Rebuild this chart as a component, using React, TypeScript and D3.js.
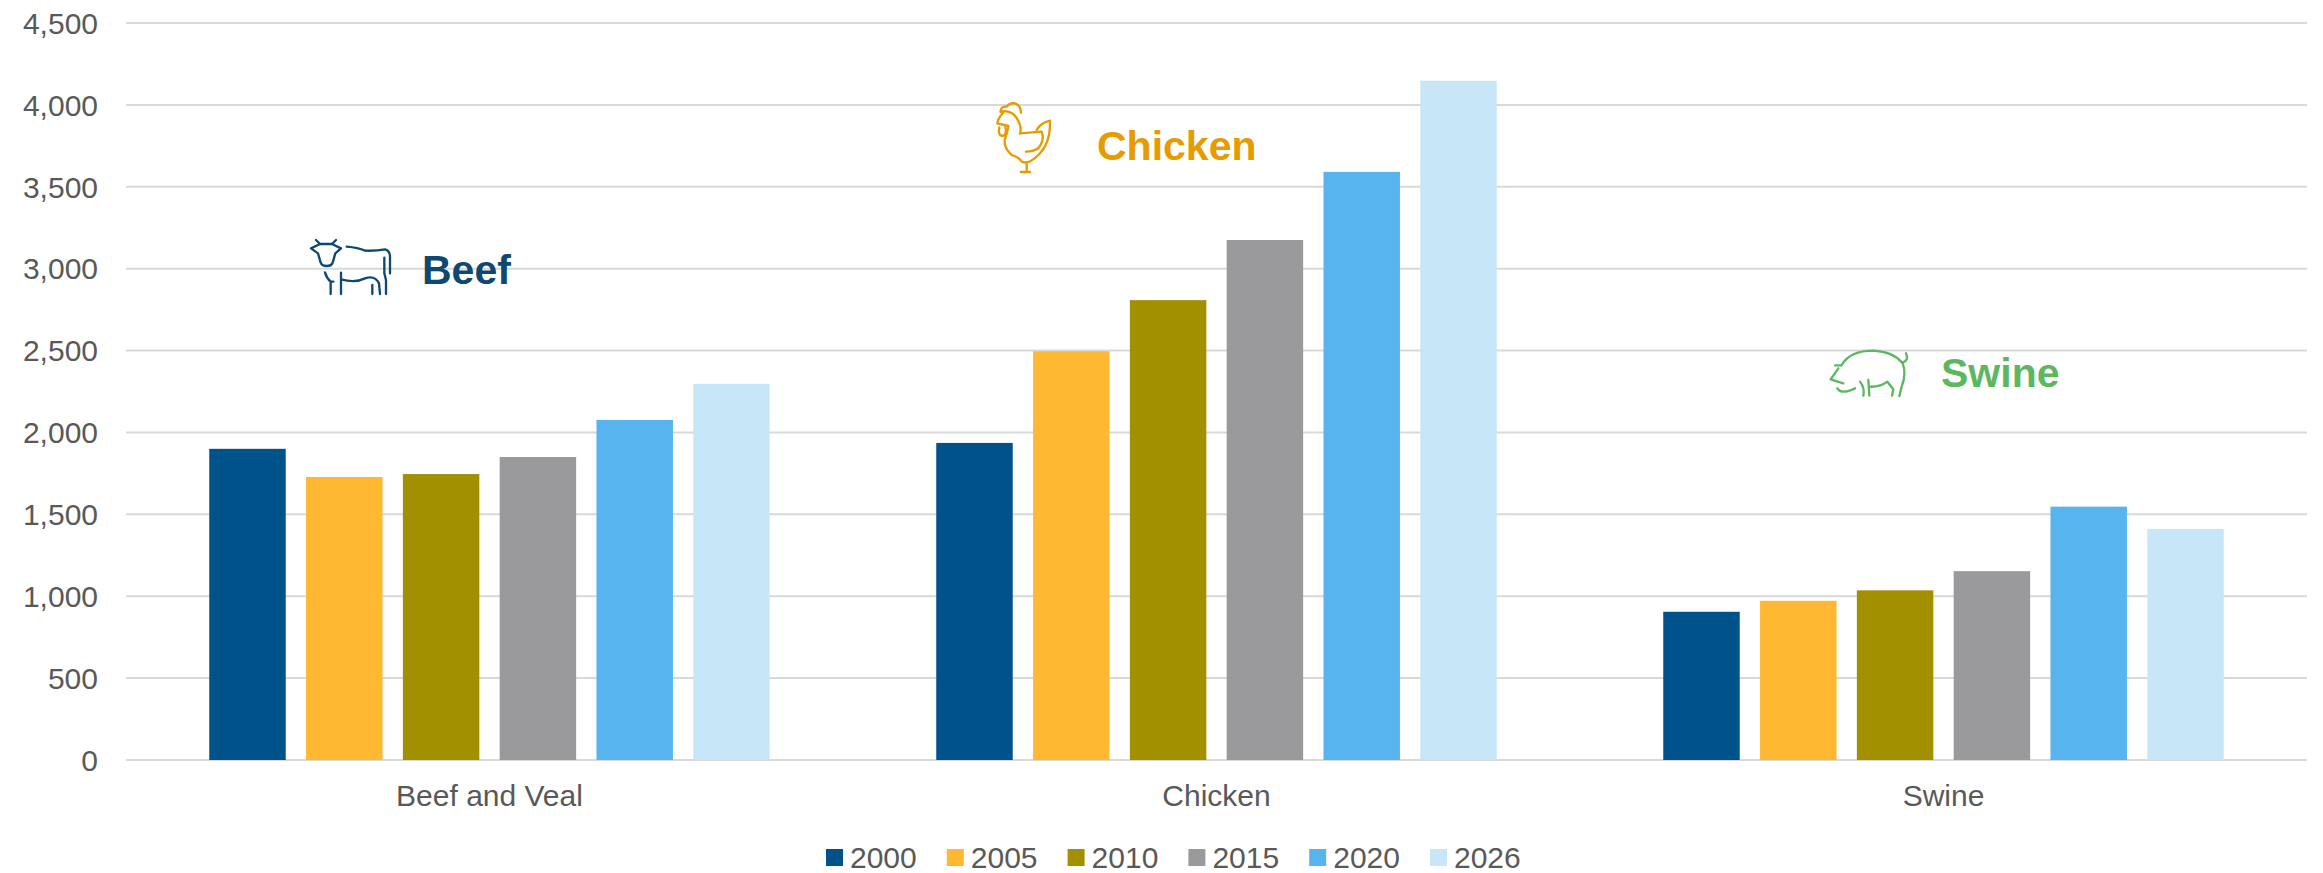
import React from "react";
import * as d3 from "d3";

const categories = ["Beef and Veal", "Chicken", "Swine"];
const years = ["2000", "2005", "2010", "2015", "2020", "2026"];
const colors = ["#00538A", "#FFB831", "#A39000", "#9A9A9C", "#57B4EE", "#C7E6F8"];
const beefValues = [1900, 1728, 1746, 1850, 2076, 2297];
const chickenValues = [1936, 2496, 2808, 3175, 3591, 4147];
const swineValues = [905, 972, 1036, 1153, 1547, 1411];
const seriesValues = [beefValues, chickenValues, swineValues];
const yTicks = [0, 500, 1000, 1500, 2000, 2500, 3000, 3500, 4000, 4500];

const W = 2323, H = 873;
const left = 126, right = 2307, top = 23, bottom = 760;
const FONT = "'Liberation Sans', Arial, sans-serif";
const TEXT = "#595959";

const x0 = d3.scaleBand<string>().domain(categories).range([left, right]);
const x1 = d3.scaleBand<string>().domain(years).range([0, x0.bandwidth()]).paddingInner(0.21).paddingOuter(0.86);
const y = d3.scaleLinear().domain([0, 4500]).range([bottom, top]);
const fmt = d3.format(",");

const beefIcon = [
  "M108 60L120 72M168 60L156 72",
  "M120 72H156L183 85L166 100L158 128Q155 138 140 138Q125 138 122 128L114 100L93 85Z",
  "M200 80Q235 83 255 92Q290 93 315 88Q330 92 330 110V160",
  "M313 113V160L318 180V222",
  "M135 157Q140 175 152 185V222M152 185H160",
  "M183 158V222M183 178Q225 190 255 175Q285 165 297 190L300 222M277 195V222",
];
const chickenIcon = [
  "M92 65Q92 48 110 50Q118 38 135 40Q152 45 153 68",
  "M92 65Q112 60 130 72Q145 88 150 105Q154 120 150 130",
  "M100 68Q85 82 82 100L115 108Q112 128 104 150Q102 175 125 195Q150 203 155 215Q175 225 205 195Q242 160 240 92Q212 98 200 120",
  "M88 112Q82 138 100 138Q112 130 106 112",
  "M150 130L215 125Q225 150 205 175Q190 185 168 185",
  "M170 222V245M152 246H180",
];
const swineIcon = [
  "M75 106H95M85 115L62 148L100 160",
  "M95 105Q120 62 190 62Q250 65 278 100Q290 130 275 170L268 198",
  "M278 98Q298 90 288 70",
  "M82 175Q95 195 135 175",
  "M150 155Q165 175 160 197M175 150L178 197",
  "M178 170Q210 172 232 155L250 178L246 197",
];

const labels = [
  { text: "Beef", x: 422, y: 284, color: "#0F4871", icon: beefIcon, ox: 280, oy: 220 },
  { text: "Chicken", x: 1097, y: 160, color: "#E69B00", icon: chickenIcon, ox: 970, oy: 90 },
  { text: "Swine", x: 1941, y: 387, color: "#5DB760", icon: swineIcon, ox: 1810, oy: 330 },
];

export default function App() {
  return (
    <svg width={W} height={H} viewBox={`0 0 ${W} ${H}`} style={{ position: "absolute", left: 0, top: 0, display: "block", background: "#fff" }} fontFamily={FONT}>
      {yTicks.map((t) => (
        <g key={t}>
          <line x1={left} x2={right} y1={y(t)} y2={y(t)} stroke="#D9D9D9" strokeWidth={2} />
          <text x={98} y={y(t)} dy="0.36em" textAnchor="end" fontSize={30} fill={TEXT}>{fmt(t)}</text>
        </g>
      ))}
      {categories.map((c, i) => (
        <g key={c} transform={`translate(${x0(c)},0)`}>
          {years.map((yr, j) => (
            <rect key={yr} x={x1(yr)} y={y(seriesValues[i][j])} width={x1.bandwidth()} height={bottom - y(seriesValues[i][j])} fill={colors[j]} />
          ))}
          <text x={x0.bandwidth() / 2} y={806} textAnchor="middle" fontSize={30} fill={TEXT}>{c}</text>
        </g>
      ))}
      {years.map((yr, j) => (
        <g key={yr} transform={`translate(${826 + j * 120.8},0)`}>
          <rect x={0} y={849} width={17} height={17} fill={colors[j]} />
          <text x={24} y={868} fontSize={30} fill={TEXT}>{yr}</text>
        </g>
      ))}
      {labels.map((l) => (
        <g key={l.text}>
          <g transform={`translate(${l.ox},${l.oy}) scale(${1 / 3})`} fill="none" stroke={l.color} strokeWidth={7} strokeLinecap="round" strokeLinejoin="round">
            {l.icon.map((d, k) => <path key={k} d={d} />)}
          </g>
          <text x={l.x} y={l.y} fontSize={41} fontWeight="bold" fill={l.color}>{l.text}</text>
        </g>
      ))}
    </svg>
  );
}
